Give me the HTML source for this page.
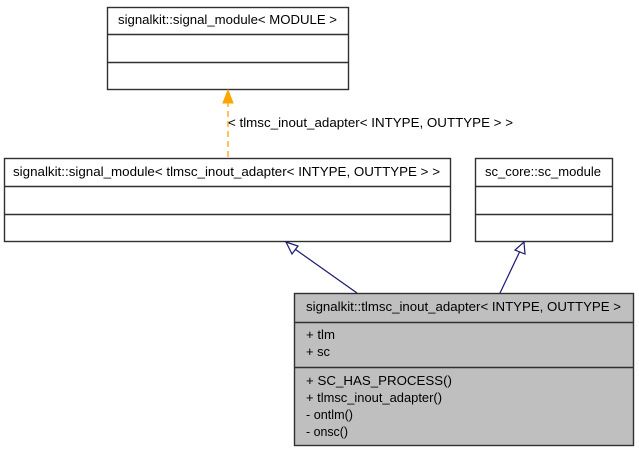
<!DOCTYPE html>
<html><head><meta charset="utf-8"><style>
html,body{margin:0;padding:0;background:#fff;width:639px;height:453px;overflow:hidden}
svg{display:block}
text{font-family:"Liberation Sans",sans-serif;font-size:12.5px;fill:#000}
</style></head><body>
<svg width="639" height="453" viewBox="0 0 639 453" xmlns="http://www.w3.org/2000/svg">
<g fill="#fff" stroke="#303030" stroke-width="1.4">
<rect x="107.5" y="7.5" width="241" height="82"/>
<line x1="107.5" y1="34.5" x2="348.5" y2="34.5"/>
<line x1="107.5" y1="62.5" x2="348.5" y2="62.5"/>
<rect x="4.5" y="158.5" width="446" height="83"/>
<line x1="4.5" y1="186.5" x2="450.5" y2="186.5"/>
<line x1="4.5" y1="214.5" x2="450.5" y2="214.5"/>
<rect x="475.5" y="158.5" width="137" height="83"/>
<line x1="475.5" y1="186.5" x2="612.5" y2="186.5"/>
<line x1="475.5" y1="214.5" x2="612.5" y2="214.5"/>
<rect x="294.5" y="293.5" width="339" height="152" fill="#bfbfbf"/>
<line x1="294.5" y1="322.5" x2="633.5" y2="322.5"/>
<line x1="294.5" y1="367.5" x2="633.5" y2="367.5"/>
</g>
<line x1="228" y1="157" x2="228" y2="103" stroke="#ffa500" stroke-width="1.3" stroke-dasharray="6,4"/>
<polygon points="228,90 223,103 233,103" fill="#ffa500" stroke="#ffa500"/>
<text x="228" y="127" textLength="285" lengthAdjust="spacingAndGlyphs">&lt; tlmsc_inout_adapter&lt; INTYPE, OUTTYPE &gt; &gt;</text>
<g stroke="#191970" stroke-width="1.2" fill="#fff">
<line x1="357" y1="293" x2="292" y2="247"/>
<polygon points="286,242 298,246 292,254"/>
<line x1="500" y1="293" x2="520" y2="251"/>
<polygon points="524,242 525,254 515,250"/>
</g>
<text x="118" y="24" textLength="219" lengthAdjust="spacingAndGlyphs">signalkit::signal_module&lt; MODULE &gt;</text>
<text x="13" y="176" textLength="427" lengthAdjust="spacingAndGlyphs">signalkit::signal_module&lt; tlmsc_inout_adapter&lt; INTYPE, OUTTYPE &gt; &gt;</text>
<text x="485" y="176" textLength="116" lengthAdjust="spacingAndGlyphs">sc_core::sc_module</text>
<text x="306" y="311" textLength="315" lengthAdjust="spacingAndGlyphs">signalkit::tlmsc_inout_adapter&lt; INTYPE, OUTTYPE &gt;</text>
<text x="306" y="339" textLength="29" lengthAdjust="spacingAndGlyphs">+ tlm</text>
<text x="306" y="356" textLength="24" lengthAdjust="spacingAndGlyphs">+ sc</text>
<text x="306" y="385" textLength="146" lengthAdjust="spacingAndGlyphs">+ SC_HAS_PROCESS()</text>
<text x="306" y="402" textLength="136" lengthAdjust="spacingAndGlyphs">+ tlmsc_inout_adapter()</text>
<text x="306" y="419" textLength="47" lengthAdjust="spacingAndGlyphs">- ontlm()</text>
<text x="306" y="436" textLength="42" lengthAdjust="spacingAndGlyphs">- onsc()</text>
</svg>
</body></html>
